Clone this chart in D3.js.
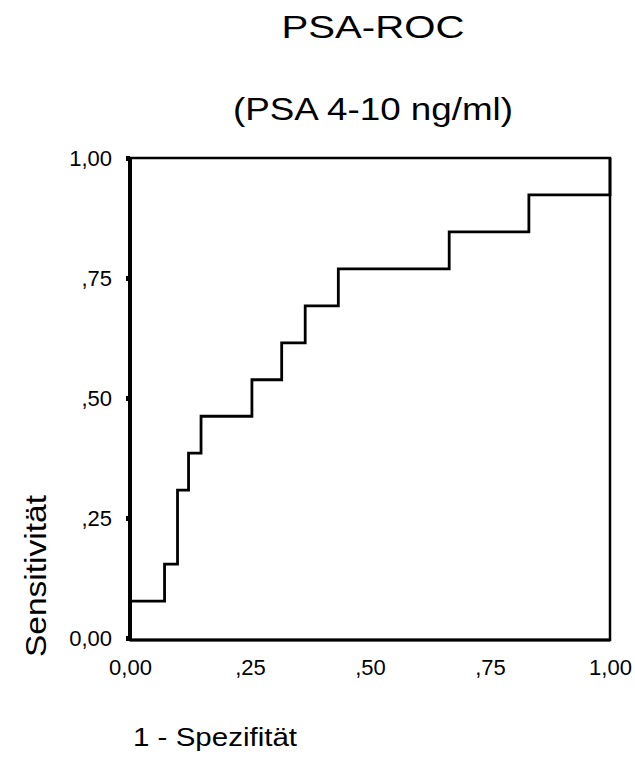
<!DOCTYPE html>
<html>
<head>
<meta charset="utf-8">
<script src="https://cdn.jsdelivr.net/npm/d3@7"></script>
<style>
  body { margin: 0; background: #fff; }
  text { font-family: Arial, "Liberation Sans", sans-serif; fill: #000; }
</style>
</head>
<body>
<div id="container"></div>
<script>
let width = 635;
let height = 758;

// ROC step points (1 - specificity, sensitivity)
var fpr = [0, 0, 0.072, 0.072, 0.099, 0.099, 0.122, 0.122, 0.148, 0.148, 0.254, 0.254, 0.316, 0.316, 0.365, 0.365, 0.434, 0.434, 0.665, 0.665, 0.831, 0.831, 1, 1];
var tpr = [0, 0.077, 0.077, 0.154, 0.154, 0.308, 0.308, 0.385, 0.385, 0.462, 0.462, 0.538, 0.538, 0.615, 0.615, 0.692, 0.692, 0.769, 0.769, 0.846, 0.846, 0.923, 0.923, 1];

var tickValues = [0, 0.25, 0.5, 0.75, 1];
var tickLabels = ["0,00", ",25", ",50", ",75", "1,00"];

let viz = d3.select("#container").append("svg")
    .attr("width", width)
    .attr("height", height)
;

let x = d3.scaleLinear().domain([0, 1]).range([130, 610]);
let y = d3.scaleLinear().domain([0, 1]).range([638, 158]);

// titles (the original glyphs are a bit wider than Arial, so stretch them)
viz.append("text")
  .attr("x", 373).attr("y", 38)
  .attr("text-anchor", "middle")
  .attr("textLength", 183)
  .attr("lengthAdjust", "spacingAndGlyphs")
  .style("font-size", "32px")
  .text("PSA-ROC");

viz.append("text")
  .attr("x", 373).attr("y", 120)
  .attr("text-anchor", "middle")
  .attr("textLength", 280)
  .attr("lengthAdjust", "spacingAndGlyphs")
  .style("font-size", "31px")
  .text("(PSA 4-10 ng/ml)");

// frame
viz.append("rect")
  .attr("x", x(0)).attr("y", y(1))
  .attr("width", x(1) - x(0))
  .attr("height", 640 - y(1))
  .attr("fill", "none")
  .attr("stroke", "#000")
  .attr("stroke-width", 2.5);

viz.append("line")
  .attr("x1", x(0)).attr("x2", x(0))
  .attr("y1", y(1)).attr("y2", 640)
  .attr("stroke", "#000")
  .attr("stroke-width", 4);

viz.append("line")
  .attr("x1", x(0)).attr("x2", x(1))
  .attr("y1", 640).attr("y2", 640)
  .attr("stroke", "#000")
  .attr("stroke-width", 3);

// y axis ticks + labels
let yAxis = viz.append("g")
  .attr("transform", "translate(" + x(0) + ",0)")
  .call(d3.axisLeft(y)
    .tickValues(tickValues)
    .tickSize(4)
    .tickPadding(14)
    .tickFormat(function(d, i){ return tickLabels[i]; }));
yAxis.select(".domain").remove();
yAxis.selectAll(".tick line").attr("stroke", "#000").attr("stroke-width", 5);
yAxis.selectAll(".tick text")
  .style("font-size", "22px")
  .style("font-family", "Arial, 'Liberation Sans', sans-serif");

// x axis labels (no tick marks)
let xAxis = viz.append("g")
  .attr("transform", "translate(0,640)")
  .call(d3.axisBottom(x)
    .tickValues(tickValues)
    .tickSize(0)
    .tickPadding(19)
    .tickFormat(function(d, i){ return tickLabels[i]; }));
xAxis.select(".domain").remove();
xAxis.selectAll(".tick text")
  .style("font-size", "22px")
  .style("font-family", "Arial, 'Liberation Sans', sans-serif");

// axis titles
viz.append("text")
  .attr("x", 133).attr("y", 746)
  .attr("textLength", 164)
  .attr("lengthAdjust", "spacingAndGlyphs")
  .style("font-size", "25px")
  .text("1 - Spezifität");

viz.append("text")
  .attr("transform", "translate(46,576) rotate(-90)")
  .attr("text-anchor", "middle")
  .attr("textLength", 162)
  .attr("lengthAdjust", "spacingAndGlyphs")
  .style("font-size", "29px")
  .text("Sensitivität");

// ROC curve
let pts = fpr.map(function(d, i){ return [d, tpr[i]]; });
let line = d3.line()
  .x(function(d){ return x(d[0]); })
  .y(function(d){ return y(d[1]); });

viz.append("path")
  .datum(pts)
  .attr("d", line)
  .attr("fill", "none")
  .attr("stroke", "#000")
  .attr("stroke-width", 2.8);
</script>
</body>
</html>
